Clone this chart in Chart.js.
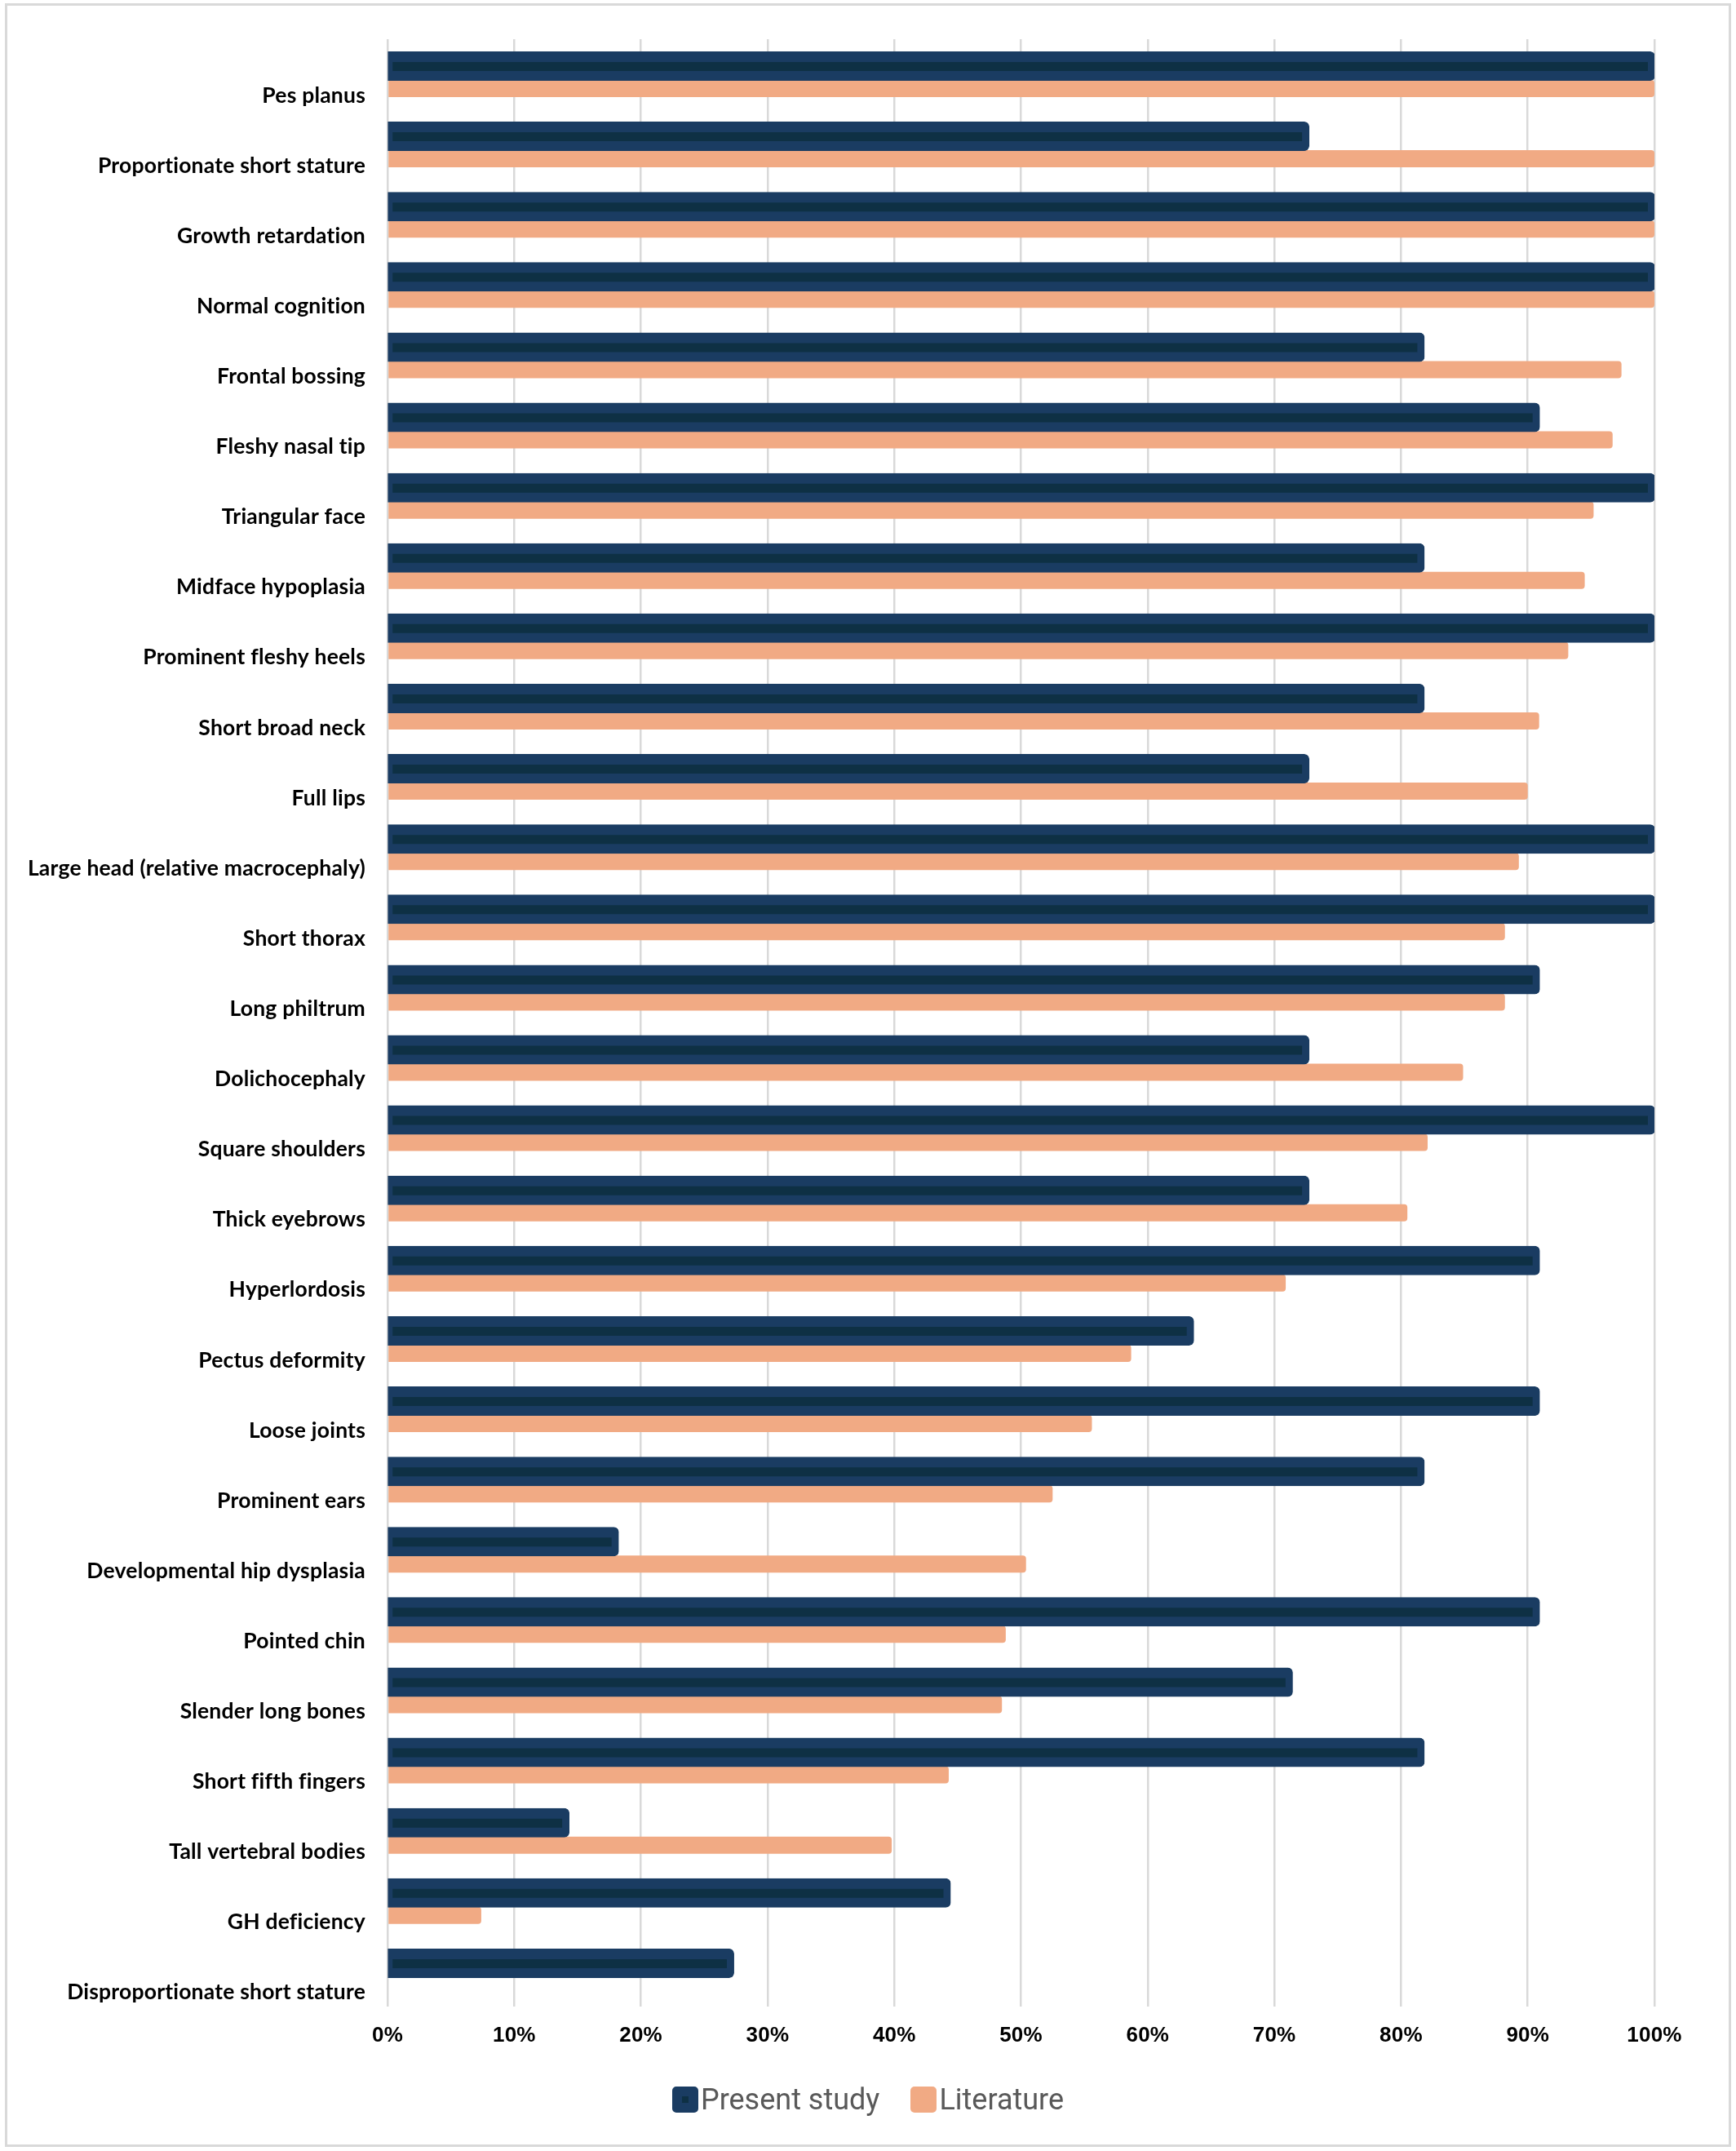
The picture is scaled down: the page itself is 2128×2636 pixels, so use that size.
<!DOCTYPE html>
<html>
<head>
<meta charset="utf-8">
<script src="https://cdn.jsdelivr.net/npm/chart.js@4.4.1/dist/chart.umd.min.js"></script>
<style>
  html, body { margin: 0; padding: 0; background: #ffffff; }
  #wrap { position: relative; width: 2128px; height: 2636px; overflow: hidden; }
  #frame { position: absolute; left: 6px; top: 4px; width: 2116px; height: 2627px; border: 3px solid #d9d9d9; box-sizing: border-box; }
  #chart { position: absolute; left: 0; top: 0; }
  #legend { position: absolute; left: 0; top: 2555px; width: 2128px; height: 36px; display: flex; justify-content: center; align-items: center;
            font-family: Roboto, "Noto Sans", sans-serif; font-size: 36px; color: #595959; }
  .item { display: flex; align-items: center; margin: 0 19px; }
  .box { width: 32px; height: 32px; box-sizing: border-box; border-radius: 5px; margin-right: 3px; }
</style>
</head>
<body>
<div id="wrap">
  <canvas id="chart" width="2128" height="2636"></canvas>
  <div id="frame"></div>
  <div id="legend"></div>
</div>
<script>
const categories = [
  "Pes planus",
  "Proportionate short stature",
  "Growth retardation",
  "Normal cognition",
  "Frontal bossing",
  "Fleshy nasal tip",
  "Triangular face",
  "Midface hypoplasia",
  "Prominent fleshy heels",
  "Short broad neck",
  "Full lips",
  "Large head (relative macrocephaly)",
  "Short thorax",
  "Long philtrum",
  "Dolichocephaly",
  "Square shoulders",
  "Thick eyebrows",
  "Hyperlordosis",
  "Pectus deformity",
  "Loose joints",
  "Prominent ears",
  "Developmental hip dysplasia",
  "Pointed chin",
  "Slender long bones",
  "Short fifth fingers",
  "Tall vertebral bodies",
  "GH deficiency",
  "Disproportionate short stature"
];

const presentStudy = [
  100, 72.7, 100, 100, 81.8, 90.9, 100, 81.8, 100, 81.8,
  72.7, 100, 100, 90.9, 72.7, 100, 72.7, 90.9, 63.6, 90.9,
  81.8, 18.2, 90.9, 71.4, 81.8, 14.3, 44.4, 27.3
];

const literature = [
  100, 100, 100, 100, 97.4, 96.7, 95.2, 94.5, 93.2, 90.9,
  90.0, 89.3, 88.2, 88.2, 84.9, 82.1, 80.5, 70.9, 58.7, 55.6,
  52.5, 50.4, 48.8, 48.5, 44.3, 39.8, 7.4, 0
];

const seriesNames = ["Present study", "Literature"];
const xTickValues = [0, 10, 20, 30, 40, 50, 60, 70, 80, 90, 100];

const NAVY = "#1a3c62";
const NAVY_INNER = "#0e3044";
const PEACH = "#f1aa84";

// small letter spacing: disables Lato's "ti" ligature so text matches the reference
const spacingPlugin = {
  id: "spacing",
  beforeDraw(chart) { chart.ctx.letterSpacing = "0.2px"; }
};

const chart = new Chart(document.getElementById("chart"), {
  type: "bar",
  plugins: [spacingPlugin],
  data: {
    labels: categories,
    datasets: [
      {
        label: seriesNames[0],
        data: presentStudy,
        backgroundColor: NAVY_INNER,
        borderColor: NAVY,
        borderWidth: { top: 13, bottom: 12, left: 6, right: 9 },
        borderSkipped: false,
        borderRadius: { topLeft: 0, bottomLeft: 0, topRight: 6, bottomRight: 6 },
        inflateAmount: 1,
        categoryPercentage: 0.467,
        barPercentage: 1.692
      },
      {
        label: seriesNames[1],
        data: literature,
        backgroundColor: PEACH,
        borderWidth: 0,
        borderSkipped: false,
        borderRadius: { topLeft: 0, bottomLeft: 0, topRight: 4, bottomRight: 4 },
        categoryPercentage: 0.8106,
        barPercentage: 0.6017
      }
    ]
  },
  options: {
    indexAxis: "y",
    responsive: false,
    animation: false,
    devicePixelRatio: 1,
    layout: { padding: { top: 48, right: 100, left: 0, bottom: 0 } },
    plugins: {
      legend: { display: false },
      tooltip: { enabled: false },
      title: { display: false }
    },
    scales: {
      x: {
        type: "linear",
        min: 0,
        max: 100,
        afterBuildTicks: (scale) => { scale.ticks = xTickValues.map(v => ({ value: v })); },
        ticks: {
          callback: (v) => v + "%",
          font: { family: "'Liberation Sans', Arial, sans-serif", weight: "bold", size: 26 },
          color: "#000000",
          padding: 20,
          maxRotation: 0,
          autoSkip: false
        },
        grid: { color: "#d9d9d9", lineWidth: 2.5, drawTicks: false },
        border: { display: false },
        afterFit: (scale) => { scale.height = 2636 - 2459; }
      },
      y: {
        ticks: {
          font: { family: "Lato, 'Open Sans', sans-serif", weight: "bold", size: 26.5 },
          color: "#000000",
          padding: 27,
          labelOffset: 26,
          autoSkip: false
        },
        grid: { display: false, drawTicks: false },
        border: { display: false },
        afterFit: (scale) => { scale.width = 475; }
      }
    }
  }
});

// HTML legend built from the datasets
const legendEl = document.getElementById("legend");
chart.data.datasets.forEach((ds, i) => {
  const item = document.createElement("div");
  item.className = "item";
  const box = document.createElement("span");
  box.className = "box";
  box.style.background = ds.backgroundColor;
  if (i === 0) {
    box.style.border = "12px solid " + ds.borderColor;
  }
  const txt = document.createElement("span");
  txt.textContent = ds.label;
  item.appendChild(box);
  item.appendChild(txt);
  legendEl.appendChild(item);
});
</script>
</body>
</html>
